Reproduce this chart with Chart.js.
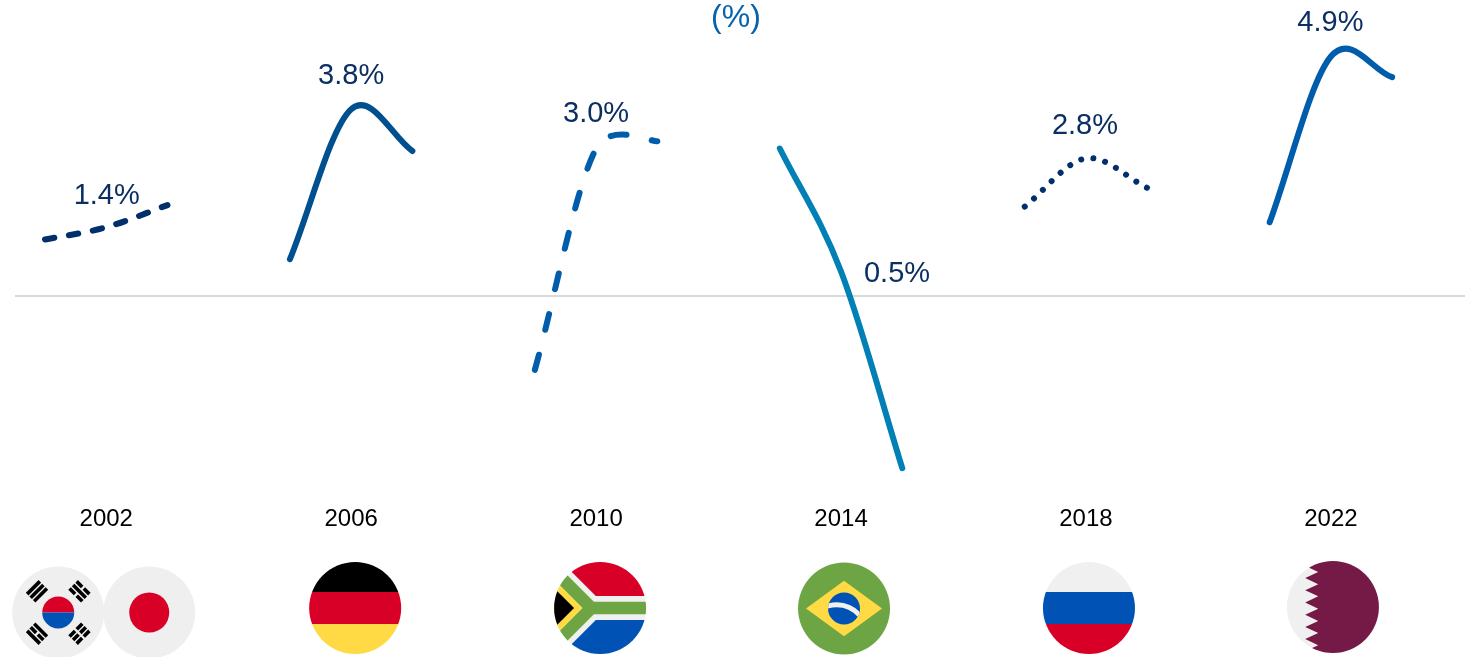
<!DOCTYPE html>
<html><head><meta charset="utf-8">
<style>html,body{margin:0;padding:0;background:#fff}canvas{display:block}</style>
<script src="https://cdn.jsdelivr.net/npm/chart.js@4"></script>
</head><body><canvas id="c" width="1465" height="657"></canvas>
<script>
const unitLabel = "(%)";
const tournamentYears = [2002, 2006, 2010, 2014, 2018, 2022];
const peakLabels = ["1.4%", "3.8%", "3.0%", "0.5%", "2.8%", "4.9%"];
const years2002 = [2001, 2002, 2003];
const years2006 = [2005, 2006, 2007];
const years2010 = [2009, 2010, 2011];
const years2014 = [2013, 2014, 2015];
const years2018 = [2017, 2018, 2019];
const years2022 = [2021, 2022, 2023];
const growth2002 = [1.15, 1.4, 1.85];
const growth2006 = [0.75, 3.8, 2.95];
const growth2010 = [-1.5, 3.0, 3.15];
const growth2014 = [3.0, 0.5, -3.5];
const growth2018 = [1.82, 2.8, 2.2];
const growth2022 = [1.5, 4.87, 4.45];
const growthByCup = [growth2002, growth2006, growth2010, growth2014, growth2018, growth2022];

const pts = (xs, ys) => xs.map((x, i) => ({x, y: ys[i]}));
const line = (xs, ys, color, dash) => ({
  data: pts(xs, ys), borderColor: color, borderWidth: 6, borderDash: dash,
  borderCapStyle: 'round', borderJoinStyle: 'round', pointRadius: 0, tension: 0.4, fill: false
});
const labelNudges = [[0.5,-31],[0,-33],[0,-34.5],[56,2.6],[-1,-32.5],[-0.5,-33.5]];
const flagNudges = [0, 4, 4, 3, 3, 2];

const RED='#d80027', BLUE='#0052b4', YEL='#ffda44', GRN='#6da544', GREY='#f0f0f0';
function poly(ctx, color, p){ctx.fillStyle=color;ctx.beginPath();p.forEach((q,i)=>i?ctx.lineTo(q[0],q[1]):ctx.moveTo(q[0],q[1]));ctx.closePath();ctx.fill();}
function rect(ctx,c,x,y,w,h){ctx.fillStyle=c;ctx.fillRect(x,y,w,h);}
function withCircle(ctx,cx,cy,r,fn){ctx.save();ctx.translate(cx,cy);ctx.beginPath();ctx.arc(0,0,r,0,Math.PI*2);ctx.clip();fn();ctx.restore();}
function trigram(ctx,ang,pattern){
  ctx.save();ctx.rotate(ang);ctx.translate(0,-30);ctx.fillStyle='#000';
  pattern.forEach((solid,i)=>{const y=-6.8+i*5;
    if(solid) ctx.fillRect(-9,y,18,3.6); else {ctx.fillRect(-9,y,7.8,3.6);ctx.fillRect(1.2,y,7.8,3.6);}});
  ctx.restore();
}
const flags = {
  korea(ctx){rect(ctx,'#efefef',-50,-50,100,100);
    ctx.save();ctx.beginPath();ctx.arc(0,0,16,0,Math.PI*2);ctx.clip();
    rect(ctx,RED,-17,-17,34,17);rect(ctx,BLUE,-17,0,34,17);ctx.restore();
    trigram(ctx,-Math.PI/4,[1,1,1]);trigram(ctx,Math.PI/4,[0,1,0]);trigram(ctx,-3*Math.PI/4,[1,0,1]);trigram(ctx,3*Math.PI/4,[0,0,0]);},
  japan(ctx){rect(ctx,'#efefef',-50,-50,100,100);ctx.fillStyle=RED;ctx.beginPath();ctx.arc(0,0,20,0,Math.PI*2);ctx.fill();},
  germany(ctx){rect(ctx,'#000',-50,-50,100,34);rect(ctx,RED,-50,-16,100,32);rect(ctx,YEL,-50,16,100,34);},
  southAfrica(ctx){rect(ctx,GREY,-50,-50,100,100);
    poly(ctx,RED,[[-4.3,-12],[60,-12],[60,-60],[-52.3,-60]]);
    poly(ctx,BLUE,[[-4.3,12],[60,12],[60,60],[-52.3,60]]);
    poly(ctx,GRN,[[60,-6.2],[-6.2,-6.2],[-60,-60],[-77.7,-60],[-17.7,0],[-77.7,60],[-60,60],[-6.2,6.2],[60,6.2]]);
    poly(ctx,YEL,[[-17.7,0],[-77.7,-60],[-90,-60],[-90,60],[-77.7,60]]);
    poly(ctx,'#000',[[-26,0],[-86,-60],[-90,-60],[-90,60],[-86,60]]);},
  brazil(ctx){rect(ctx,GRN,-50,-50,100,100);poly(ctx,YEL,[[-38,0],[0,-27.7],[38,0],[0,27.7]]);
    ctx.save();ctx.beginPath();ctx.arc(0,0,16,0,Math.PI*2);ctx.fillStyle=BLUE;ctx.fill();ctx.clip();
    ctx.strokeStyle=GREY;ctx.lineWidth=5;ctx.beginPath();ctx.moveTo(-18,-2);ctx.quadraticCurveTo(2,-8,16,7);ctx.stroke();ctx.restore();},
  russia(ctx){rect(ctx,GREY,-50,-50,100,34);rect(ctx,BLUE,-50,-16,100,32);rect(ctx,RED,-50,16,100,34);},
  qatar(ctx){rect(ctx,GREY,-50,-50,100,100);
    poly(ctx,'#751a46',[[-23.7,-39.3],[-14.7,-35],[-27.7,-29],[-14.7,-22.7],[-27.7,-16.7],[-14.7,-10.7],[-27.7,-4.5],[-14.7,1.7],[-27.7,7.8],[-14.7,14],[-27.7,20],[-14.7,26],[-27.7,32],[-14.7,38.3],[-23.7,42.3],[-23.7,60],[60,60],[60,-60],[-23.7,-60]]);}
};
const flagRows = [
  [['korea',-48,4.5],['japan',43,4.5]], [['germany',0,0]], [['southAfrica',0,0]],
  [['brazil',0,0.5]], [['russia',0,0]], [['qatar',0,-1]]
];
/* Office-style smoothing: replaces the library's control points, still computed from scale pixels */
function officeSmooth(p){
  const n=p.length, dist=(a,b)=>Math.hypot(a.x-b.x,a.y-b.y);
  for(let i=0;i<n-1;i++){
    const p1=p[i],p2=p[i+1],p0=i>0?p[i-1]:p1,p3=i<n-2?p[i+2]:p2;
    const d02=dist(p0,p2),d12=dist(p1,p2),d13=dist(p1,p3);
    let f1,f2;
    const a=d02/6<d12/2,b=d13/6<d12/2;
    if(a&&b){f1=i?1/6:1/3;f2=i<n-2?1/6:1/3;}
    else if(!a&&!b){f1=d12/2/d02;f2=d12/2/d13;}
    else if(!a){f1=d12/2/d02;f2=d12/2/d02;}
    else{f1=d12/2/d13;f2=d12/2/d13;}
    p1.cp2x=p1.x+(p2.x-p0.x)*f1;p1.cp2y=p1.y+(p2.y-p0.y)*f1;
    p2.cp1x=p2.x+(p1.x-p3.x)*f2;p2.cp1y=p2.y+(p1.y-p3.y)*f2;
  }
}
const smoother = {id:'smoother',beforeDatasetsDraw(chart){
  chart.data.datasets.forEach((d,i)=>officeSmooth(chart.getDatasetMeta(i).data));
}};
const annotate = {
  id:'annotate',
  afterDraw(chart){
    const {ctx,scales:{x,y}} = chart;
    ctx.save();
    ctx.textAlign='center';ctx.textBaseline='middle';
    ctx.font='29px "Liberation Sans", Arial, sans-serif';ctx.fillStyle='#0b2f63';
    tournamentYears.forEach((yr,i)=>{
      ctx.fillText(peakLabels[i], x.getPixelForValue(yr)+labelNudges[i][0], y.getPixelForValue(growthByCup[i][1])+labelNudges[i][1]);
    });
    ctx.font='32px "Liberation Sans", Arial, sans-serif';ctx.fillStyle='#0563ae';
    ctx.fillText(unitLabel, 736, 18);
    ctx.restore();
    tournamentYears.forEach((yr,i)=>{
      flagRows[i].forEach(([name,dx,dy])=>{
        withCircle(ctx,x.getPixelForValue(yr)+flagNudges[i]+dx,608+dy,46,()=>flags[name](ctx));
      });
    });
  }
};
new Chart(document.getElementById('c'),{
  type:'line',
  data:{datasets:[
    line(years2002,growth2002,'#002f6c',[9.5,14.8]),
    line(years2006,growth2006,'#00508f',[]),
    line(years2010,growth2010,'#005dab',[16,25.6]),
    line(years2014,growth2014,'#0080b4',[]),
    line(years2018,growth2018,'#002f6c',[0.01,12.3]),
    line(years2022,growth2022,'#005dab',[])
  ]},
  plugins:[smoother,annotate],
  options:{
    responsive:false,animation:false,devicePixelRatio:1,
    layout:{padding:{left:15,right:0,top:0,bottom:118}},
    plugins:{legend:{display:false},tooltip:{enabled:false},title:{display:false}},
    scales:{
      x:{type:'linear',min:2000.51,max:2024.19,
        grid:{display:false,drawTicks:false},border:{display:false},
        afterBuildTicks(s){s.ticks=tournamentYears.map(v=>({value:v}));},
        ticks:{autoSkip:false,maxRotation:0,padding:5.5,color:'#000',
          font:{family:'"Liberation Sans", Arial, sans-serif',size:24},
          callback:v=>String(v)}},
      y:{type:'linear',min:-4.13,max:6.02,
        grid:{color:'#d9d9d9',lineWidth:2,drawTicks:false},border:{display:false},
        afterBuildTicks(s){s.ticks=[{value:0}];},
        ticks:{display:false}}
    }
  }
});
</script></body></html>
